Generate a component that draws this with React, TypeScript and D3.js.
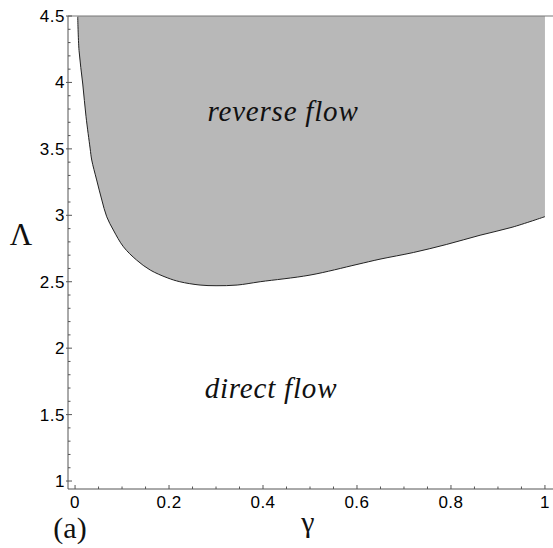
import React from 'react'
import * as d3 from 'd3'

// boundary between direct and reverse flow
const gammaVals = [0.0057, 0.0085, 0.0164, 0.0234, 0.032, 0.0355, 0.046, 0.057, 0.0674, 0.0815, 0.103, 0.131, 0.16, 0.196, 0.223, 0.266, 0.3, 0.345, 0.394, 0.5, 0.6, 0.649, 0.72, 0.79, 0.862, 0.93, 1.0]
const lambdaVals = [4.495, 4.24, 3.988, 3.742, 3.506, 3.416, 3.266, 3.115, 2.989, 2.889, 2.763, 2.663, 2.588, 2.53, 2.5, 2.475, 2.47, 2.475, 2.5, 2.55, 2.63, 2.67, 2.72, 2.78, 2.85, 2.91, 2.99]

const xTicks = [0, 0.2, 0.4, 0.6, 0.8, 1]
const xTickLabels = ['0', '0.2', '0.4', '0.6', '0.8', '1']
const yTicks = [1, 1.5, 2, 2.5, 3, 3.5, 4, 4.5]
const yTickLabels = ['1', '1.5', '2', '2.5', '3', '3.5', '4', '4.5']

const W = 553
const H = 548

export default function App() {
  const x = d3.scaleLinear().domain([-0.015, 1.015]).range([68, 552])
  const y = d3.scaleLinear().domain([0.94, 4.5]).range([489, 16])

  const pts: [number, number][] = gammaVals.map((g, i) => [x(g), y(lambdaVals[i])])

  const line = d3.line().curve(d3.curveCatmullRom.alpha(0.5))
  const boundary = line(pts) || ''
  // close the region up along gamma = 1 and along the top of the plot
  const region = boundary +
    `L${x(1)},${y(4.5)}L${x(gammaVals[0])},${y(4.5)}Z`

  const xMinor = d3.range(0, 1.0001, 0.05).filter(v => Math.abs(v * 5 - Math.round(v * 5)) > 1e-6)
  const yMinor = d3.range(1, 4.5001, 0.1).filter(v => Math.abs(v * 2 - Math.round(v * 2)) > 1e-6)

  const axisColor = '#555'
  const tickFont = { fontFamily: 'Liberation Sans, Arial, sans-serif', fontSize: 17, letterSpacing: 0.5 }
  const serif = 'Liberation Serif, Times New Roman, serif'

  return (
    <div style={{ position: 'absolute', left: 0, top: 0 }}>
      <svg width={W} height={H} style={{ display: 'block', background: '#fff' }}>
        {/* shaded reverse-flow region */}
        <path d={region} fill="#b8b8b8" />
        <path d={boundary} fill="none" stroke="#222" strokeWidth={1} />

        {/* frame */}
        <line x1={68} x2={68} y1={16} y2={489} stroke={axisColor} />
        <line x1={68} x2={553} y1={489} y2={489} stroke={axisColor} />
        <line x1={68} x2={553} y1={16} y2={16} stroke="#777" />

        {/* y ticks */}
        {yTicks.map((t, i) => (
          <g key={'yt' + i}>
            <line x1={66} x2={72} y1={y(t)} y2={y(t)} stroke={axisColor} />
            <text x={65} y={y(t) + 6} textAnchor="end" style={tickFont} fill="#000">{yTickLabels[i]}</text>
          </g>
        ))}
        {yMinor.map((t, i) => (
          <line key={'ym' + i} x1={68} x2={70.5} y1={y(t)} y2={y(t)} stroke={axisColor} />
        ))}

        {/* x ticks */}
        {xTicks.map((t, i) => (
          <g key={'xt' + i}>
            <line x1={x(t)} x2={x(t)} y1={489} y2={485} stroke={axisColor} />
            <text x={x(t)} y={508} textAnchor="middle" style={tickFont} fill="#000">{xTickLabels[i]}</text>
          </g>
        ))}
        {xMinor.map((t, i) => (
          <line key={'xm' + i} x1={x(t)} x2={x(t)} y1={489} y2={486.5} stroke={axisColor} />
        ))}

        {/* region labels */}
        <text x={283} y={121} textAnchor="middle" fontFamily={serif} fontStyle="italic" fontSize={29} letterSpacing={0.8} fill="#111">reverse flow</text>
        <text x={271} y={398} textAnchor="middle" fontFamily={serif} fontStyle="italic" fontSize={29} letterSpacing={0.8} fill="#111">direct flow</text>

        {/* axis titles */}
        <text x={21} y={245} textAnchor="middle" fontFamily={serif} fontSize={31} fill="#111">Λ</text>
        <text x={308} y={532} textAnchor="middle" fontFamily={serif} fontSize={30} fill="#111">γ</text>
        <text x={70} y={538} textAnchor="middle" fontFamily={serif} fontSize={30} fill="#111">(a)</text>
      </svg>
    </div>
  )
}
